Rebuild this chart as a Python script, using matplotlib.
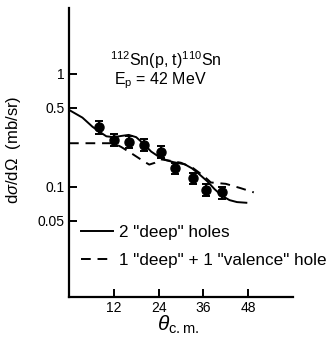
import matplotlib
matplotlib.use("Agg")
import matplotlib.pyplot as plt

plt.rcParams['font.family'] = ['Liberation Sans', 'DejaVu Sans']
plt.rcParams['mathtext.fontset'] = 'custom'
plt.rcParams['mathtext.rm'] = 'Liberation Sans'
plt.rcParams['mathtext.it'] = 'Liberation Sans:italic'

# measured points
theta_data = [8, 12, 16.2, 20.2, 24.7, 28.4, 33.3, 36.6, 40.9]
xs_data = [0.34, 0.26, 0.25, 0.236, 0.203, 0.146, 0.119, 0.094, 0.089]
xs_err = [0.13, 0.12, 0.12, 0.12, 0.12, 0.12, 0.12, 0.12, 0.12]  # relative

# 2 "deep" holes (solid)
theta_deep = [0, 3.6, 6.3, 8, 10, 12, 14, 16, 18, 20, 22, 24, 26, 28, 31,
              33, 35, 37, 39, 41, 43, 45, 47.5]
xs_deep = [0.48, 0.41, 0.34, 0.31, 0.28, 0.275, 0.282, 0.288, 0.275, 0.24,
           0.205, 0.185, 0.172, 0.165, 0.158, 0.145, 0.128, 0.112, 0.095,
           0.083, 0.076, 0.073, 0.072]

# 1 "deep" + 1 "valence" hole (dashed)
theta_val = [0, 12, 14, 17, 20, 21.5, 23, 24.5, 27, 30, 33, 36, 38, 42, 46, 49.5]
xs_val = [0.243, 0.243, 0.225, 0.195, 0.168, 0.157, 0.163, 0.175, 0.17,
          0.163, 0.148, 0.125, 0.109, 0.106, 0.097, 0.089]

fig = plt.figure(figsize=(3.3, 3.44), dpi=100)
ax = fig.add_axes([69/330, 1-297/344, 224/330, 289/344])

ax.plot(theta_deep, xs_deep, '-', color='black', lw=1.4, label='2 "deep" holes')
ax.plot(theta_val, xs_val, color='black', lw=1.4, linestyle=(0, (5, 3.5)),
        label='1 "deep" + 1 "valence" hole')
err = [[v * e for v, e in zip(xs_data, xs_err)], [v * e for v, e in zip(xs_data, xs_err)]]
ax.errorbar(theta_data, xs_data, yerr=err, fmt='o', color='black', ms=6.5,
            capsize=3, elinewidth=1.4, capthick=1.4)

ax.set_yscale('log')
ax.set_xlim(0, 60)
ax.set_ylim(0.0105, 3.85)
ax.set_xticks([12, 24, 36, 48])
ax.set_yticks([1, 0.5, 0.1, 0.05])
ax.set_yticklabels(['1', '0.5', '0.1', '0.05'])
ax.minorticks_off()
ax.tick_params(direction='in', length=6, width=1.4, labelsize=10, pad=3)
for s in ['top', 'right']:
    ax.spines[s].set_visible(False)
for s in ['left', 'bottom']:
    ax.spines[s].set_linewidth(1.6)

ax.text(0.43, 0.82, r'$^{112}$Sn(p, t)$^{110}$Sn', transform=ax.transAxes,
        ha='center', va='center', fontsize=11.5)
ax.text(0.41, 0.75, r'E$_{\rm p}$ = 42 MeV', transform=ax.transAxes,
        ha='center', va='center', fontsize=11.5)

ax.legend(loc='upper left', bbox_to_anchor=(0.0, 0.29), frameon=False,
          fontsize=12.3, handlelength=1.9, handletextpad=0.3, labelspacing=0.75,
          borderaxespad=0.3)

fig.text(14/330, 1-150/344, r'd$\sigma$/d$\Omega$  (mb/sr)', rotation=90,
         ha='center', va='center', fontsize=12)
fig.text(178/330, 1-325/344, r'$\it{\theta}_{\rm c.m.}$', ha='center',
         va='center', fontsize=15)

fig.savefig('out.png', dpi=100)
